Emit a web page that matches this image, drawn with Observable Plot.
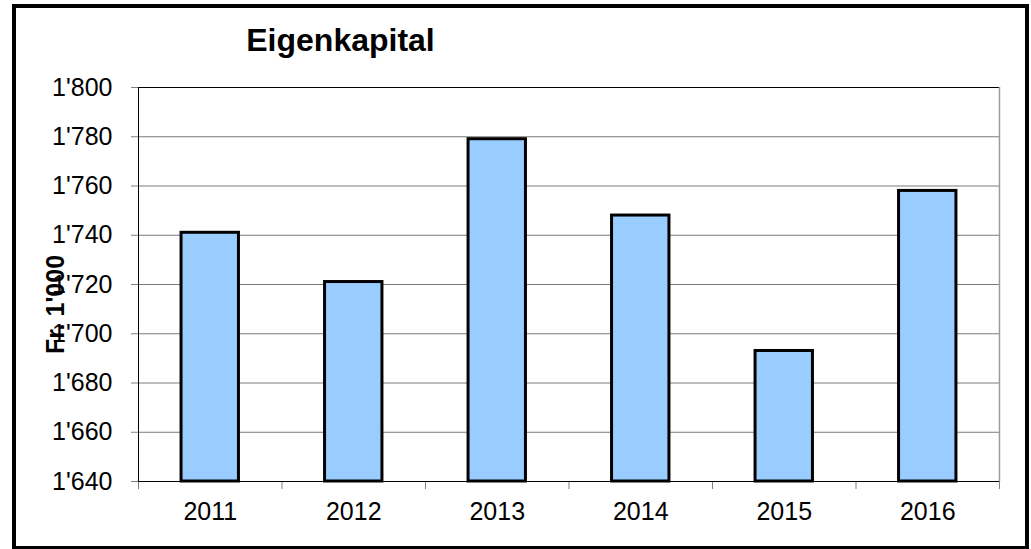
<!DOCTYPE html>
<html>
<head>
<meta charset="utf-8">
<script src="https://cdn.jsdelivr.net/npm/d3@7"></script>
<script src="https://cdn.jsdelivr.net/npm/@observablehq/plot@0.6"></script>
<style>
  html, body { margin: 0; padding: 0; background: white; }
  #wrap { position: relative; width: 1031px; height: 549px; overflow: hidden; }
  #border { position: absolute; left: 12px; top: 4px; width: 1009px; height: 538px; border: 4px solid #000; pointer-events: none; }
</style>
</head>
<body>
<div id="wrap"><div id="chart"></div><div id="border"></div></div>
<script>
const title = "Eigenkapital";
const yLabel = "Fr. 1'000";
const years = ["2011", "2012", "2013", "2014", "2015", "2016"];
const values = [1741, 1721, 1779, 1748, 1693, 1758];
const yTicks = [1640, 1660, 1680, 1700, 1720, 1740, 1760, 1780, 1800];

const data = years.map((y, i) => ({year: y, i, value: values[i]}));
const boundaries = d3.range(years.length + 1).map(k => k - 0.5);
const fmt = d3.formatLocale({decimal: ".", thousands: "'", grouping: [3], currency: ["", ""]}).format(",");

const chart = Plot.plot({
  width: 1031,
  height: 549,
  marginLeft: 138,
  marginRight: 32,
  marginTop: 87,
  marginBottom: 68,
  style: {fontFamily: "'Liberation Sans', Arial, sans-serif", fontSize: "25px", background: "white", color: "#000"},
  x: {domain: [-0.5, years.length - 0.5], axis: null},
  y: {domain: [1640, 1800], axis: null},
  marks: [
    Plot.gridY(yTicks, {stroke: "#7a7a7a", strokeOpacity: 1, strokeWidth: 1}),
    Plot.ruleY([1800], {stroke: "#000", strokeWidth: 1}),
    Plot.ruleX([years.length - 0.5], {stroke: "#9a9a9a", strokeWidth: 1.5}),
    Plot.rectY(data, {x1: d => d.i - 0.2, x2: d => d.i + 0.2, y1: 1640, y2: "value", fill: "#99CCFF", stroke: "#000", strokeWidth: 3}),
    Plot.axisY(yTicks, {tickSize: 7, tickPadding: 19, stroke: "#808080", fill: "#000", fontSize: 25, tickFormat: fmt, label: null}),
    Plot.axisX(boundaries, {tickSize: 8, stroke: "#808080", tickFormat: () => "", label: null}),
    Plot.axisX(data.map(d => d.i), {tickSize: 0, tickPadding: 21, fill: "#000", fontSize: 25, tickFormat: k => years[k], label: null}),
    Plot.ruleX([-0.5], {stroke: "#000", strokeWidth: 1}),
    Plot.ruleY([1640], {stroke: "#000", strokeWidth: 1}),
    Plot.text([yLabel], {frameAnchor: "left", dx: -83, dy: 20, rotate: -90, text: d => d, fontSize: 25, fontWeight: "bold", fill: "#000", lineAnchor: "middle", textAnchor: "middle"}),
    Plot.text([title], {frameAnchor: "top-left", dx: 202, dy: -47, text: d => d, fontSize: 32, fontWeight: "bold", fill: "#000", lineAnchor: "middle", textAnchor: "middle"})
  ]
});
document.getElementById("chart").appendChild(chart);
</script>
</body>
</html>
